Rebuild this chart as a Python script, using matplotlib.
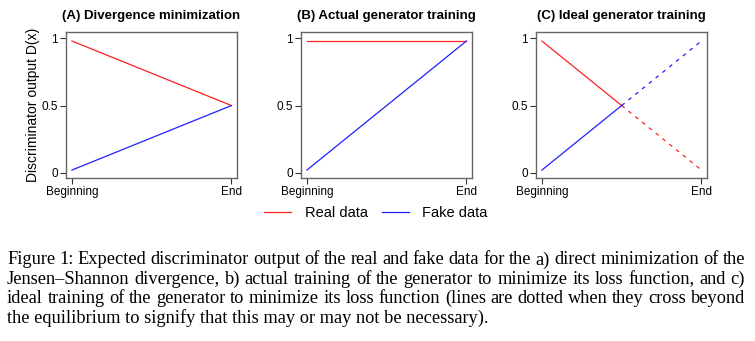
import matplotlib.pyplot as plt

plt.rcParams['font.family'] = ['Liberation Sans', 'DejaVu Sans']

# Training progress on the x axis: 0 = beginning, 1 = end
stage = [0, 1]
stage_labels = ['Beginning', 'End']
y_ticks = [0, 0.5, 1]
y_tick_labels = ['0', '0.5', '1']

# (A) direct minimization of the divergence
a_real = [0.98, 0.5]
a_fake = [0.02, 0.5]

# (B) what actually happens when training the generator
b_real = [0.98, 0.98]
b_fake = [0.02, 0.98]

# (C) ideal training, dashed past the equilibrium
c_stage = [0, 0.5, 1]
c_real = [0.98, 0.5, 0.02]
c_fake = [0.02, 0.5, 0.98]

titles = ['(A) Divergence minimization', '(B) Actual generator training',
          '(C) Ideal generator training']

caption_lines = [
    'Figure 1: Expected discriminator output of the real and fake data for the a) direct minimization of the',
    'Jensen\u2013Shannon divergence, b) actual training of the generator to minimize its loss function, and c)',
    'ideal training of the generator to minimize its loss function (lines are dotted when they cross beyond',
    'the equilibrium to signify that this may or may not be necessary).',
]

W, H = 755, 341
fig = plt.figure(figsize=(W / 100, H / 100), dpi=100)

red = '#ff2020'
blue = '#2020ff'
lw = 0.9

lefts = [66, 301, 536]
axes = []
for left in lefts:
    ax = fig.add_axes([left / W, 1 - 178 / H, 171 / W, 146 / H])
    axes.append(ax)

axes[0].plot(stage, a_real, color=red, lw=lw)
axes[0].plot(stage, a_fake, color=blue, lw=lw)
axes[1].plot(stage, b_real, color=red, lw=lw)
axes[1].plot(stage, b_fake, color=blue, lw=lw)
axes[2].plot(c_stage[:2], c_real[:2], color=red, lw=lw)
axes[2].plot(c_stage[1:], c_real[1:], color=red, lw=lw, ls=(0, (3, 4)))
axes[2].plot(c_stage[:2], c_fake[:2], color=blue, lw=lw)
axes[2].plot(c_stage[1:], c_fake[1:], color=blue, lw=lw, ls=(0, (3, 4)))

for ax, title in zip(axes, titles):
    ax.set_xlim(-0.037, 1.035)
    ax.set_ylim(-0.039, 1.047)
    ax.set_xticks(stage)
    ax.set_xticklabels(stage_labels)
    ax.set_yticks(y_ticks)
    ax.set_yticklabels(y_tick_labels)
    ax.tick_params(length=4, width=0.8, color='#333333', labelsize=8.5, pad=2)
    for s in ax.spines.values():
        s.set_color('#666666')
        s.set_linewidth(1.0)
    ax.set_title(title, fontsize=9.5, fontweight='bold', pad=9.4)

axes[0].set_ylabel('Discriminator output D(x)', fontsize=10, labelpad=1)

# legend under the middle panel
handles = axes[1].get_lines()
fig.legend(handles, ['Real data', 'Fake data'], loc='center',
           bbox_to_anchor=(376 / W, 1 - 213 / H), ncol=2, frameon=False,
           fontsize=10.5, handlelength=1.85, handletextpad=0.9,
           columnspacing=1.0)

# justified caption in a serif face
renderer = fig.canvas.get_renderer()
x0, x1 = 7, 745
for i, line in enumerate(caption_lines):
    y = 1 - (260 + 19.2 * i) / H
    words = line.split(' ')
    if i == len(caption_lines) - 1:
        fig.text(x0 / W, y, line, family='Liberation Serif', fontsize=13.2,
                 va='center', ha='left')
        continue
    texts = [fig.text(0, y, w, family='Liberation Serif', fontsize=13.2,
                      va='center', ha='left') for w in words]
    widths = [t.get_window_extent(renderer).width for t in texts]
    gap = (x1 - x0 - sum(widths)) / (len(words) - 1)
    x = x0
    for t, w in zip(texts, widths):
        t.set_x(x / W)
        x += w + gap

fig.savefig('out.png', dpi=100)
